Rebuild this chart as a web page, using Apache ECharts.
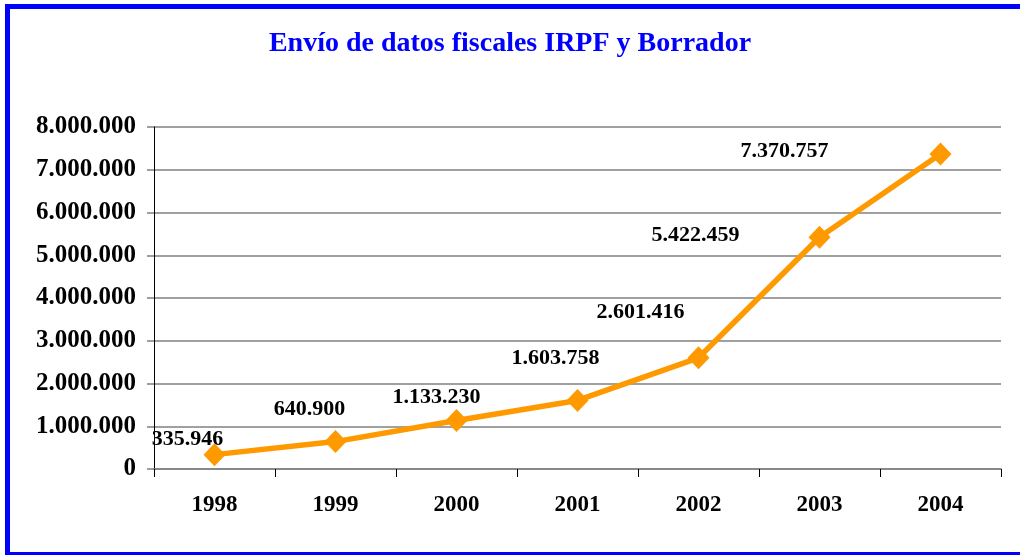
<!DOCTYPE html>
<html>
<head>
<meta charset="utf-8">
<script src="https://cdn.jsdelivr.net/npm/echarts@6/dist/echarts.min.js"></script>
<style>
  html, body { margin: 0; padding: 0; background: #fff; }
  #chart { width: 1020px; height: 555px; }
</style>
</head>
<body>
<div id="chart"></div>
<script>
// datos
const years = ['1998', '1999', '2000', '2001', '2002', '2003', '2004'];
const envios = [335946, 640900, 1133230, 1603758, 2601416, 5422459, 7370757];
// desplazamiento de cada etiqueta respecto a su punto (px)
const labelShift = [[-27, -15], [-26, -32], [-20, -23], [-22, -42], [-58, -45], [-124, -2], [-156, -3]];

const serif = '"Liberation Serif", "DejaVu Serif", serif';

// 1.234.567 con punto de miles
function fmt(v) {
  return String(v).replace(/\B(?=(\d{3})+(?!\d))/g, '.');
}

let myChart = echarts.init(document.getElementById('chart'));

let seriesData = envios.map(function (v, i) {
  return {
    value: v,
    label: { offset: labelShift[i] }
  };
});

let option = {
  backgroundColor: '#fff',
  animation: false,
  title: {
    text: 'Envío de datos fiscales IRPF y Borrador',
    left: 'center',
    top: 25,
    textStyle: {
      color: '#0000ff',
      fontFamily: serif,
      fontWeight: 'bold',
      fontSize: 28
    }
  },
  graphic: [{
    type: 'rect',
    shape: { x: 7.5, y: 6.5, width: 1030, height: 548 },
    style: { fill: 'none', stroke: '#0000ff', lineWidth: 5 },
    silent: true
  }],
  grid: { left: 154, right: 19, top: 127, bottom: 86 },
  xAxis: {
    type: 'category',
    data: years,
    boundaryGap: true,
    axisLine: { lineStyle: { color: '#808080', width: 1.5 } },
    axisTick: { show: true, length: 8, lineStyle: { color: '#000' } },
    axisLabel: {
      margin: 25,
      color: '#000',
      fontFamily: serif,
      fontWeight: 'bold',
      fontSize: 23
    }
  },
  yAxis: {
    type: 'value',
    min: 0,
    max: 8000000,
    interval: 1000000,
    axisLine: { show: true, lineStyle: { color: '#000', width: 1 } },
    axisTick: { show: true, length: 7, lineStyle: { color: '#808080', width: 1.5 } },
    splitLine: { lineStyle: { color: '#808080', width: 1.5 } },
    axisLabel: {
      margin: 18,
      color: '#000',
      fontFamily: serif,
      fontWeight: 'bold',
      fontSize: 25,
      formatter: fmt
    }
  },
  series: [{
    name: 'Envíos',
    type: 'line',
    data: seriesData,
    symbol: 'diamond',
    symbolSize: [22, 23],
    itemStyle: { color: '#ff9900' },
    lineStyle: { color: '#ff9900', width: 5.5 },
    label: {
      show: true,
      position: 'inside',
      color: '#000',
      fontFamily: serif,
      fontWeight: 'bold',
      fontSize: 22,
      formatter: function (p) { return fmt(p.value); }
    }
  }]
};

myChart.setOption(option);
</script>
</body>
</html>
